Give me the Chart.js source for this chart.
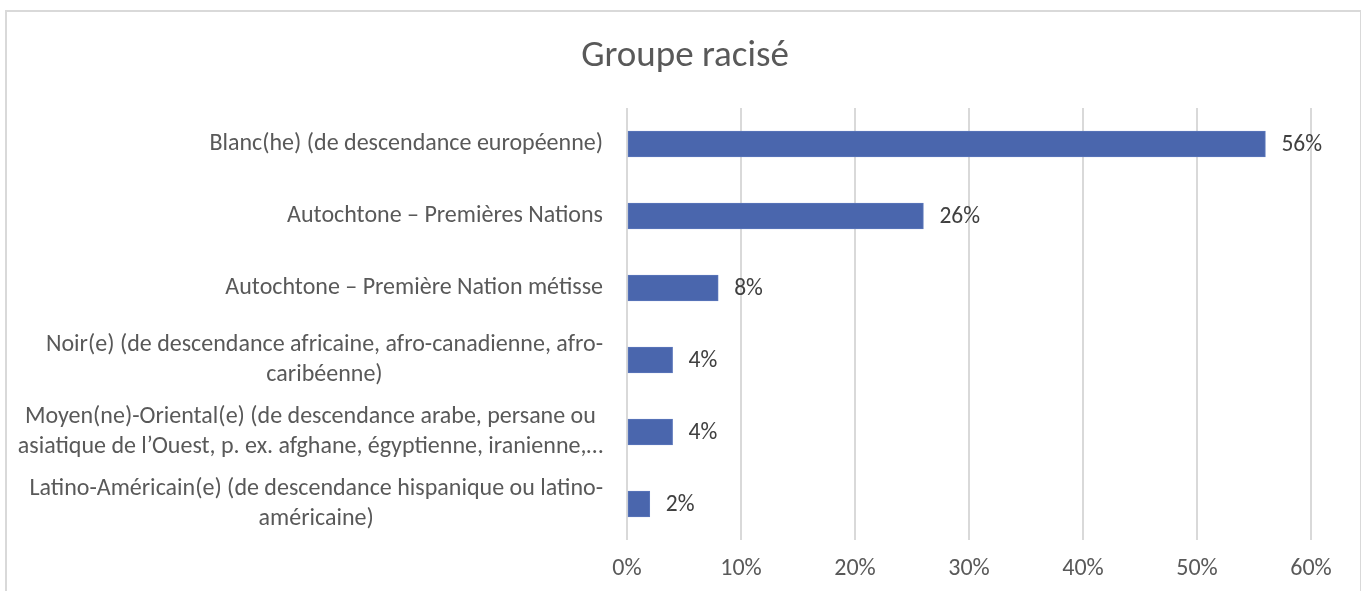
<!DOCTYPE html>
<html>
<head>
<meta charset="utf-8">
<script src="https://cdn.jsdelivr.net/npm/chart.js@4.4.1/dist/chart.umd.min.js"></script>
<style>
  html, body { margin: 0; padding: 0; background: #fff; }
  #wrap { position: relative; width: 1361px; height: 591px; overflow: hidden; }
  #frame {
    position: absolute; left: 5px; top: 10px; width: 1353px; height: 640px;
    border: 2px solid #d9d9d9; pointer-events: none;
  }
</style>
</head>
<body>
<div id="wrap">
  <canvas id="chart" width="1361" height="591"></canvas>
  <div id="frame"></div>
</div>
<script>
// Groupe racisé — horizontal bar chart

const FONT = 'Carlito, Calibri, Lato, sans-serif';

const categories = [
    ['Blanc(he) (de descendance européenne)'],
    ['Autochtone – Premières Nations'],
    ['Autochtone – Première Nation métisse'],
    ['Noir(e) (de descendance africaine, afro-canadienne, afro-', 'caribéenne)'],
    ['Moyen(ne)-Oriental(e) (de descendance arabe, persane ou', 'asiatique de l’Ouest, p. ex. afghane, égyptienne, iranienne,…'],
    ['Latino-Américain(e) (de descendance hispanique ou latino-', 'américaine)'],
];
const percentages = [56, 26, 8, 4, 4, 2];
const xTicks = [0, 10, 20, 30, 40, 50, 60];

// category labels: block right-aligned, lines centred inside the block
const categoryLabels = {
    id: 'categoryLabels',
    afterDraw(chart) {
        const { ctx } = chart;
        const y = chart.scales.y;
        const right = chart.chartArea.left - 24;
        ctx.save();
        ctx.font = '24px ' + FONT;
        ctx.fillStyle = '#595959';
        ctx.textAlign = 'center';
        ctx.textBaseline = 'middle';
        const lineH = 30;
        categories.forEach((lines, i) => {
            const cy = y.getPixelForValue(i);
            const w = Math.max(...lines.map(l => ctx.measureText(l).width));
            const cx = right - w / 2;
            const top = cy - (lines.length - 1) * lineH / 2;
            lines.forEach((l, k) => ctx.fillText(l, cx, top + k * lineH));
        });
        ctx.restore();
    },
};

// value labels at the end of each bar
const valueLabels = {
    id: 'valueLabels',
    afterDatasetsDraw(chart) {
        const { ctx } = chart;
        const meta = chart.getDatasetMeta(0);
        ctx.save();
        ctx.font = '23.5px ' + FONT;
        ctx.fillStyle = '#404040';
        ctx.textAlign = 'left';
        ctx.textBaseline = 'middle';
        meta.data.forEach((bar, i) => {
            ctx.fillText(percentages[i] + '%', bar.x + 16, bar.y + 1);
        });
        ctx.restore();
    },
};

new Chart(document.getElementById('chart'), {
    type: 'bar',
    data: {
        labels: categories,
        datasets: [{
            data: percentages,
            backgroundColor: '#4a66ad',
            borderColor: '#5b77bb',
            borderWidth: 1,
            barThickness: 26,
            borderSkipped: false,
        }],
    },
    options: {
        indexAxis: 'y',
        responsive: false,
        animation: false,
        layout: { padding: { left: 59, right: 50, top: 0, bottom: 0 } },
        plugins: {
            legend: { display: false },
            tooltip: { enabled: false },
            title: {
                display: true,
                text: 'Groupe racisé',
                color: '#595959',
                font: { family: FONT, size: 37, weight: 'normal', lineHeight: 1.2 },
                padding: { top: 35, bottom: 28.6 },
            },
        },
        scales: {
            x: {
                min: 0,
                max: 60,
                afterBuildTicks: scale => { scale.ticks = xTicks.map(v => ({ value: v })); },
                afterFit: scale => { scale.height = 51; },
                grid: { color: '#d9d9d9', lineWidth: 2, drawTicks: false },
                border: { display: false },
                ticks: {
                    color: '#595959',
                    padding: 15,
                    font: { family: FONT, size: 24 },
                    callback: v => v + '%',
                },
            },
            y: {
                afterFit: scale => { scale.width = 568; },
                grid: { display: false },
                border: { display: false },
                ticks: { display: false },
            },
        },
    },
    plugins: [categoryLabels, valueLabels],
});
</script>
</body>
</html>
